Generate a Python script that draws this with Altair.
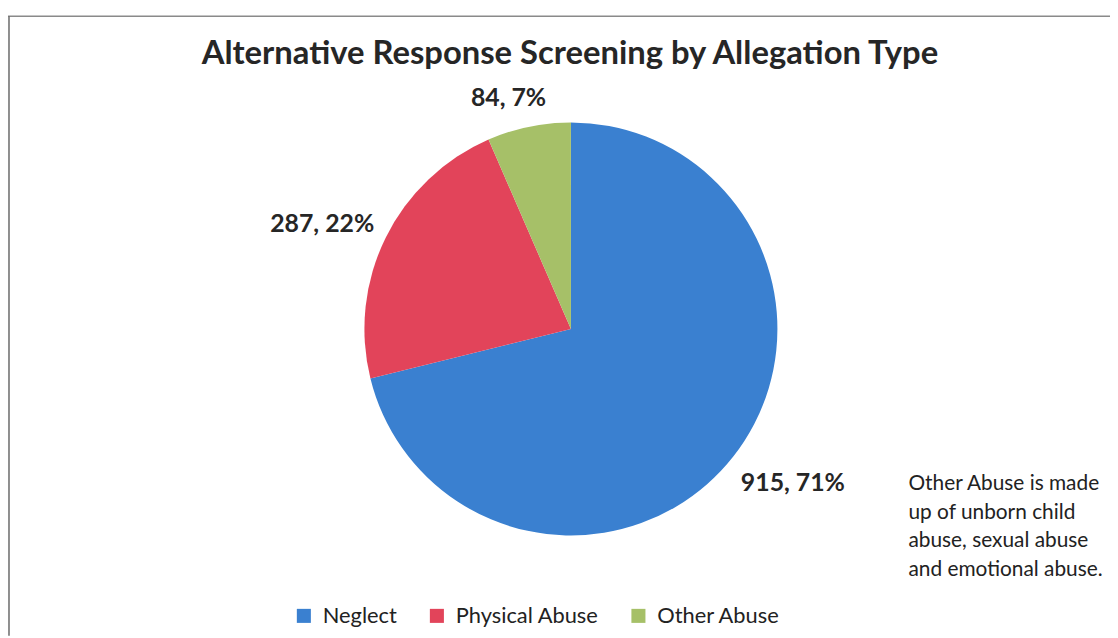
import altair as alt
import pandas as pd

categories = ["Neglect", "Physical Abuse", "Other Abuse"]
counts = [915, 287, 84]
percents = ["71%", "22%", "7%"]
colors = ["#3a80d0", "#e2445a", "#a6c068"]
note_lines = ["Other Abuse is made", "up of unborn child", "abuse, sexual abuse", "and emotional abuse."]
title_text = "Alternative Response Screening by Allegation Type"

df = pd.DataFrame({
    "category": categories,
    "count": counts,
    "pct": percents,
    "order": list(range(len(categories))),
})
df["label"] = df["count"].astype(str) + ", " + df["pct"]

W, H = 1110, 630
CX, CY = 567, 321
FONT = "Lato"

color_scale = alt.Scale(domain=categories, range=colors)

pie = alt.Chart(df).mark_arc(outerRadius=208, strokeWidth=0).encode(
    theta=alt.Theta("count:Q", stack=True),
    order=alt.Order("order:Q"),
    x=alt.value(CX),
    y=alt.value(CY),
    color=alt.Color(
        "category:N",
        scale=color_scale,
        sort=categories,
        legend=alt.Legend(
            title=None,
            orient="none",
            direction="horizontal",
            legendX=287,
            legendY=599,
            symbolType="square",
            symbolSize=200,
            symbolStrokeWidth=0,
            labelFont=FONT,
            labelFontSize=22,
            labelColor="#222222",
            labelOffset=8,
            columnPadding=29,
            labelLimit=400,
        ),
    ),
)

# Label angle: middle of each slice, nudged slightly counter-clockwise like the original
labels = alt.Chart(df).transform_window(
    cum="sum(count)", sort=[alt.SortField("order", order="ascending")], frame=[None, 0]
).transform_calculate(
    mid="datum.cum - datum.count / 2 - 12",
    r="datum.category == 'Other Abuse' ? 241 : 272",
).mark_text(
    font=FONT, fontSize=25, fontWeight="bold", color="#262626",
    align="center", baseline="middle",
).encode(
    theta=alt.Theta("mid:Q", stack=None),
    radius=alt.Radius("r:Q", scale=None),
    x=alt.value(CX),
    y=alt.value(CY),
    text="label:N",
)

dummy = pd.DataFrame({"a": [0]})
top_line = alt.Chart(dummy).mark_rule(color="#8a8a8a", strokeWidth=1.5).encode(
    x=alt.value(0), x2=alt.value(W), y=alt.value(6)
)
left_line = alt.Chart(dummy).mark_rule(color="#6a6a6a", strokeWidth=1.5).encode(
    x=alt.value(1), y=alt.value(6), y2=alt.value(H)
)

note = alt.Chart(dummy).mark_text(
    font=FONT, fontSize=21, color="#222222", align="left", baseline="top",
    lineHeight=29,
).encode(
    x=alt.value(907), y=alt.value(466), text=alt.value(note_lines)
)

title = alt.Chart(dummy).mark_text(
    font=FONT, fontSize=33, fontWeight="bold", color="#262626", align="center",
    baseline="middle",
).encode(
    x=alt.value(566), y=alt.value(44), text=alt.value(title_text)
)

chart = alt.layer(top_line, left_line, pie, labels, note, title).properties(
    width=W, height=H, padding=0, autosize=alt.AutoSizeParams(type="none")
).configure_view(stroke=None)

chart.save("out.html", embed_options={"renderer": "svg", "actions": False})
